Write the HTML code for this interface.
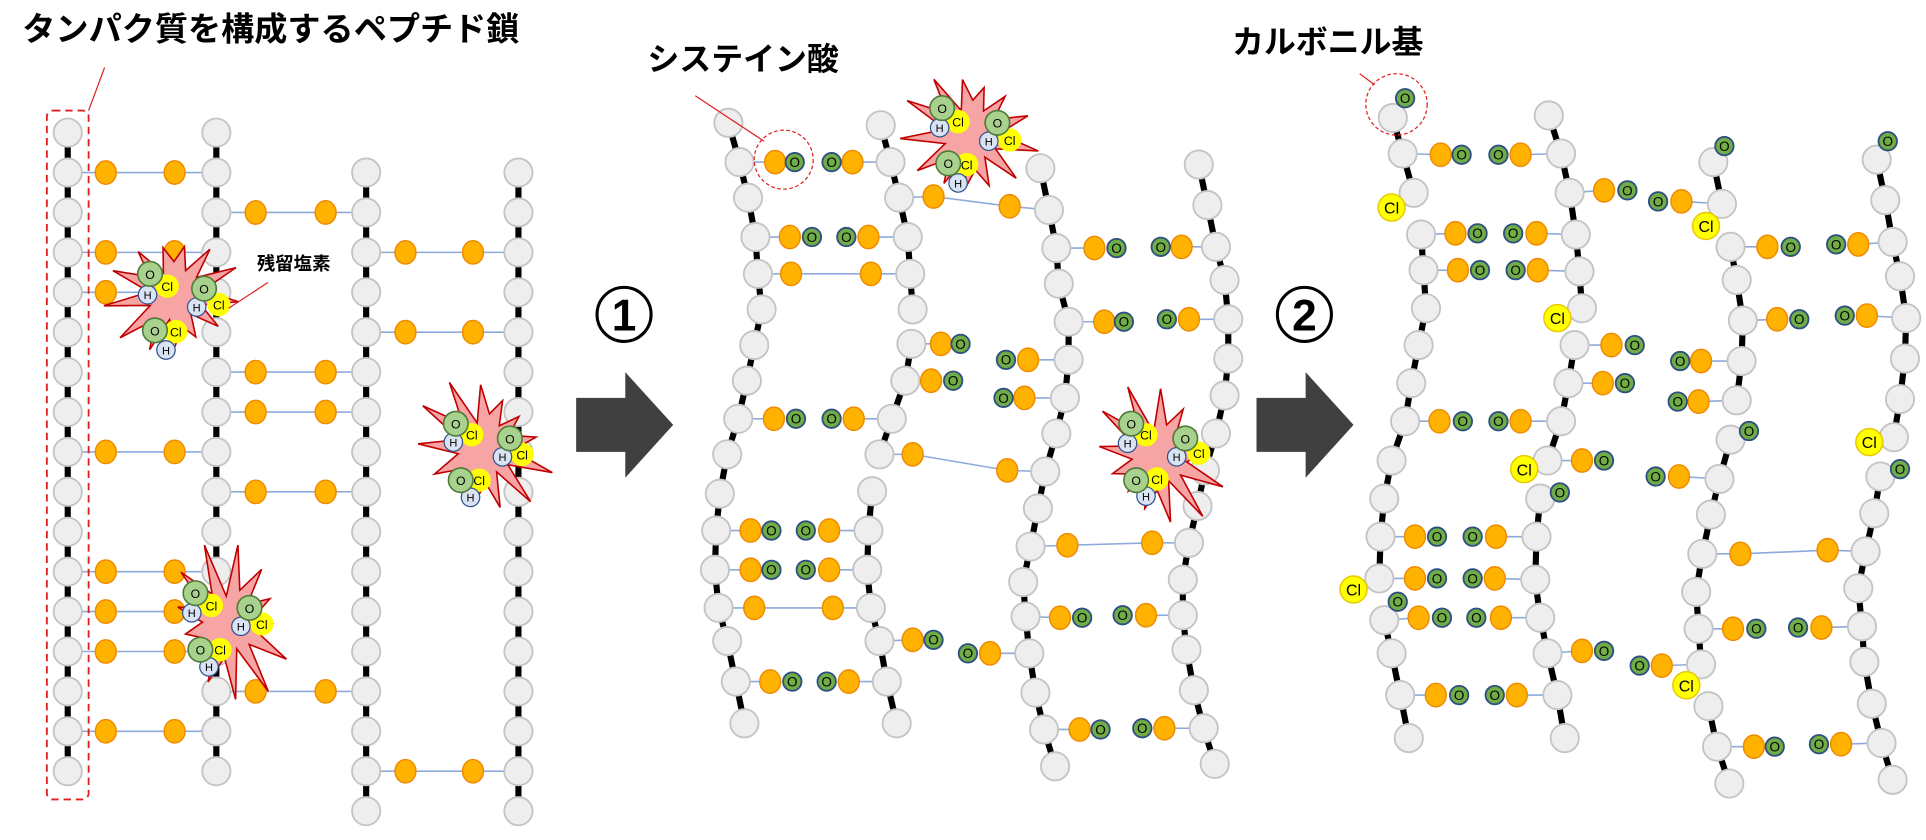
<!DOCTYPE html>
<html><head><meta charset="utf-8">
<style>
html,body{margin:0;padding:0;background:#fff;}
svg{display:block;}
</style></head>
<body>
<svg id="s" xmlns="http://www.w3.org/2000/svg" width="1926" height="840" viewBox="0 0 1568 684">
<rect width="1568" height="684" fill="#fff"/>
<g id="gb"></g><g id="gc"></g><g id="gn"></g><g id="ga"></g><g id="gx"></g>
<g font-family="'Liberation Sans','Noto Sans CJK JP',sans-serif" font-weight="bold" fill="#000">
<text x="18" y="33" font-size="27">タンパク質を構成するペプチド鎖</text>
<text x="527" y="57" font-size="26">システイン酸</text>
<text x="1003" y="43" font-size="26">カルボニル基</text>
<text x="209" y="220" font-size="15">残留塩素</text>
<circle cx="508" cy="256" r="22" fill="none" stroke="#000" stroke-width="2.5"/>
<text x="508" y="269" font-size="36" text-anchor="middle">1</text>
<circle cx="1062" cy="256" r="22" fill="none" stroke="#000" stroke-width="2.5"/>
<text x="1062" y="269" font-size="36" text-anchor="middle">2</text>
</g>
<polygon points="469,324 509,324 509,303 548,346 509,389 509,368 469,368" fill="#404040"/>
<polygon points="1023,324 1063,324 1063,303 1102,346 1063,389 1063,368 1023,368" fill="#404040"/>
<rect x="38" y="90" width="34" height="561" rx="5" fill="none" stroke="#e02020" stroke-width="1.5" stroke-dasharray="6,4"/>
<line x1="72" y1="90" x2="85" y2="55" stroke="#e02020" stroke-width="1"/>
<line x1="218" y1="230" x2="186" y2="251" stroke="#e02020" stroke-width="1"/>
<circle cx="638" cy="130" r="24" fill="none" stroke="#e02020" stroke-width="1" stroke-dasharray="3,2"/>
<line x1="566" y1="78" x2="622" y2="115" stroke="#e02020" stroke-width="1"/>
<circle cx="1137" cy="85" r="25" fill="none" stroke="#e02020" stroke-width="1" stroke-dasharray="3,2"/>
<line x1="1107" y1="60" x2="1119" y2="69" stroke="#e02020" stroke-width="1"/>
</svg>
<script>
var NS="http://www.w3.org/2000/svg";
function el(g,t,a,txt){var e=document.createElementNS(NS,t);for(var k in a)e.setAttribute(k,a[k]);if(txt!==undefined)e.textContent=txt;document.getElementById(g).appendChild(e);return e;}
var FONT="'Liberation Sans',sans-serif";
function node(x,y){el('gn','circle',{cx:x,cy:y,r:11.5,fill:'#eeeeee',stroke:'#c4c4c4','stroke-width':1.5});}
function chain(p){for(var i=0;i<p.length-1;i++)el('gc','line',{x1:p[i][0],y1:p[i][1],x2:p[i+1][0],y2:p[i+1][1],stroke:'#000','stroke-width':5});p.forEach(function(q){node(q[0],q[1]);});}
function bl(x1,y1,x2,y2){el('gb','line',{x1:x1,y1:y1,x2:x2,y2:y2,stroke:'#8eaadb','stroke-width':1.3});}
function org(x,y){el('ga','ellipse',{cx:x,cy:y,rx:8.5,ry:9.5,fill:'#ffb300',stroke:'#f08a00','stroke-width':1.2});}
function gO(x,y){el('ga','circle',{cx:x,cy:y,r:7.5,fill:'#70ad47',stroke:'#2f4f80','stroke-width':1.5});el('ga','text',{x:x,y:y+4,'font-size':11,'text-anchor':'middle','font-family':FONT,fill:'#000'},'O');}
function Cl(x,y){el('ga','circle',{cx:x,cy:y,r:11,fill:'#ffff00',stroke:'#e8c800','stroke-width':1.2});el('ga','text',{x:x,y:y+5,'font-size':13,'text-anchor':'middle','font-family':FONT,fill:'#000'},'Cl');}
function full(n1,n2,o1,o2){bl(n1[0],n1[1],o1[0],o1[1]);bl(o1[0],o1[1],o2[0],o2[1]);bl(o2[0],o2[1],n2[0],n2[1]);org(o1[0],o1[1]);org(o2[0],o2[1]);}
function half(nx,ny,ox,gx,y){bl(nx,ny,ox,y);org(ox,y);gO(gx,y);}
function burst(cx,cy,rx,ry,mols,seed){var pts=[],n=13;for(var i=0;i<n*2;i++){var a=i*Math.PI/n+seed;var f=(i%2==0)?(0.9+0.22*Math.sin(i*2.7+seed*5)):0.42+0.06*Math.cos(i*1.3);pts.push((cx+Math.cos(a)*rx*f).toFixed(1)+','+(cy+Math.sin(a)*ry*f).toFixed(1));}
el('gx','polygon',{points:pts.join(' '),fill:'#f7a4a4',stroke:'#c00000','stroke-width':1.3});
mols.forEach(function(m){var t=m[0],x=m[1],y=m[2];
 if(t=='O'){el('gx','circle',{cx:x,cy:y,r:10,fill:'#a9d18e',stroke:'#4f7a38','stroke-width':1.3});el('gx','text',{x:x,y:y+4,'font-size':10,'text-anchor':'middle','font-family':FONT},'O');}
 else if(t=='C'){el('gx','circle',{cx:x,cy:y,r:9,fill:'#ffff00',stroke:'#ffff00'});el('gx','text',{x:x,y:y+4,'font-size':10,'text-anchor':'middle','font-family':FONT},'Cl');}
 else {el('gx','circle',{cx:x,cy:y,r:7.5,fill:'#dae3f3',stroke:'#2f528f','stroke-width':1});el('gx','text',{x:x,y:y+3.5,'font-size':9,'text-anchor':'middle','font-family':FONT},'H');}
});}
function mset(p){return [['C',p[1][0],p[1][1]],['H',p[2][0],p[2][1]],['O',p[0][0],p[0][1]],['C',p[5][0],p[5][1]],['H',p[4][0],p[4][1]],['O',p[3][0],p[3][1]],['C',p[7][0],p[7][1]],['H',p[8][0],p[8][1]],['O',p[6][0],p[6][1]]];}

var Y=function(k){return 108+32.5*k;};
function col(x,k0,k1){var p=[];for(var k=k0;k<=k1;k++)p.push([x,Y(k)]);chain(p);}
col(55,0,16);col(176,0,16);col(298,1,17);col(422,1,17);
[1,3,4,8,11,12,13,15].forEach(function(k){full([55,Y(k)],[176,Y(k)],[86,Y(k)],[142,Y(k)]);});
[2,6,7,9,14].forEach(function(k){full([176,Y(k)],[298,Y(k)],[208,Y(k)],[265,Y(k)]);});
[3,5,16].forEach(function(k){full([298,Y(k)],[422,Y(k)],[330,Y(k)],[385,Y(k)]);});
burst(142,240,52,57,mset([[122,223],[136,233],[120,240],[166,235],[160,250],[178,248],[126,269],[143,270],[135,285]]),0.1);
burst(394,365,52,60,mset([[371,345],[384,354],[369,360],[415,357],[409,372],[425,370],[375,391],[390,391],[383,405]]),0.3);
burst(186,507,52,60,mset([[159,483],[172,493],[156,499],[203,495],[196,510],[213,508],[163,529],[179,529],[170,543]]),0.5);

chain([[593,100],[602,132],[609,161],[615,193],[617,223],[620,252],[614,281],[608,310],[601,341],[592,370],[586,402],[583,432],[582,464],[585,495],[592,522],[599,555],[606,589]]);
chain([[717,102],[725,132],[732,161],[739,193],[741,223],[743,252]]);
chain([[742,280],[737,310],[726,341],[716,370]]);
chain([[710,400],[707,432],[706,464],[709,495],[716,522],[722,555],[730,589]]);
chain([[847,137],[854,171],[860,202],[862,231],[870,262],[870,293],[867,324],[860,353],[851,384],[845,414],[839,445],[833,474],[835,502],[838,532],[843,564],[850,594],[859,624]]);
chain([[976,134],[983,167],[990,201],[997,228],[1000,260],[1000,292],[997,322],[990,353],[981,383],[975,412],[968,442],[963,472],[963,501],[966,529],[972,562],[980,593],[989,622]]);
function pair(n1,n2,y1,o1,g1,g2,o2,y2){if(y2===undefined)y2=y1;half(n1[0],n1[1],o1,g1,y1);half(n2[0],n2[1],o2,g2,y2);}
pair([602,132],[725,132],132,631,647,677,694);
pair([615,193],[739,193],193,643,661,689,707);
full([617,223],[741,223],[644,223],[709,223]);
full([732,161],[854,171],[760,160],[822,168]);
pair([601,341],[726,341],341,630,648,677,695);
pair([583,432],[707,432],432,611,628,656,675);
pair([582,464],[706,464],464,611,628,656,675);
full([585,495],[709,495],[614,495],[678,495]);
pair([599,555],[722,555],555,627,645,673,691);
half(742,280,766,782,280);half(737,310,758,776,310);
half(870,293,837,819,293);half(867,324,834,817,324);
full([716,370],[851,384],[743,370],[820,383]);
half(716,522,743,760,521);half(838,532,806,788,532);
pair([860,202],[990,201],202,891,909,945,962,201);
pair([870,262],[1000,260],262,899,915,950,968,260);
full([839,445],[968,442],[869,444],[938,442]);
pair([835,502],[963,501],503,863,881,914,933,501);
pair([850,594],[980,593],594,879,896,930,948,593);
burst(790,110,52,60,mset([[767,88],[780,99],[765,104],[812,100],[805,115],[822,114],[772,133],[787,134],[780,149]]),0.2);
burst(943,372,52,57,mset([[921,345],[933,354],[918,361],[965,357],[958,372],[976,369],[925,391],[942,390],[933,404]]),0.4);

chain([[1134,96],[1142,125],[1151,157]]);gO(1144,80);
chain([[1157,191],[1159,220],[1161,251],[1155,281],[1149,312],[1144,343],[1133,375],[1127,406],[1124,437],[1123,471]]);
chain([[1127,505],[1133,532],[1140,566],[1147,601]]);gO(1138,490);
chain([[1261,94],[1271,125],[1278,157],[1283,191],[1286,221],[1288,251]]);
chain([[1282,281],[1277,312],[1271,343],[1260,375]]);
chain([[1254,406],[1251,437],[1250,472],[1254,503],[1260,532],[1268,566],[1274,601]]);gO(1270,401);
chain([[1395,132],[1402,166]]);gO(1404,119);
chain([[1409,201],[1414,228],[1419,261],[1418,294],[1414,326]]);
chain([[1409,358],[1400,390],[1393,419],[1386,451],[1381,482],[1383,512],[1385,541]]);gO(1424,351);
chain([[1391,575],[1398,608],[1408,638]]);
chain([[1528,130],[1535,163],[1541,197],[1547,225],[1552,259],[1551,292],[1547,325],[1542,356]]);gO(1537,115);
chain([[1531,388],[1526,418],[1519,449],[1513,479],[1516,510],[1518,539],[1524,573],[1532,605],[1541,635]]);gO(1547,382);
pair([1142,125],[1271,125],126,1173,1190,1220,1238);
pair([1157,191],[1283,191],190,1185,1203,1232,1251);
pair([1159,220],[1286,221],220,1187,1205,1234,1252);
half(1278,157,1306,1325,155);half(1402,166,1369,1350,164);
half(1282,281,1312,1331,281);half(1277,312,1305,1323,312);
pair([1409,201],[1541,197],201,1439,1458,1495,1513,199);
pair([1419,261],[1552,259],260,1447,1465,1502,1520,257);
half(1418,294,1385,1368,294);half(1414,326,1383,1366,327);
pair([1144,343],[1271,343],343,1172,1191,1220,1238);
pair([1124,437],[1251,437],437,1152,1170,1199,1218);
pair([1123,471],[1250,472],471,1152,1170,1199,1217);
pair([1127,505],[1254,503],503,1155,1174,1202,1222);
pair([1140,566],[1268,566],566,1169,1188,1217,1235);
half(1260,375,1288,1306,375);half(1400,390,1367,1348,388);
half(1260,532,1288,1306,530);half(1385,541,1353,1335,542);
full([1386,451],[1519,449],[1417,451],[1488,448]);
pair([1383,512],[1516,510],512,1411,1430,1464,1483,511);
pair([1398,608],[1532,605],608,1428,1445,1481,1499,606);
Cl(1133,169);Cl(1268,259);Cl(1389,184);Cl(1102,480);Cl(1241,382);Cl(1373,558);Cl(1522,360);
</script>
</body></html>
